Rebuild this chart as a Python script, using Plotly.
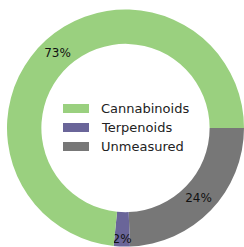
import plotly.graph_objects as go

labels = ["Cannabinoids", "Terpenoids", "Unmeasured"]
values = [73.4, 2.2, 24.4]
colors = ["#9ad07f", "#6a6599", "#777777"]

fig = go.Figure()
# slices drawn clockwise from 3 o'clock in reverse order (same layout as
# counter-clockwise from 3 o'clock in the given order)
fig.add_trace(go.Pie(
    labels=labels[::-1],
    values=values[::-1],
    hole=0.71,
    sort=False,
    direction="clockwise",
    rotation=90,
    marker=dict(colors=colors[::-1], line=dict(width=0)),
    texttemplate="%{percent:.0%}",
    textposition="inside",
    insidetextorientation="horizontal",
    textfont=dict(family="DejaVu Sans", size=12, color="#111111"),
    domain=dict(x=[7 / 244, 1.0], y=[0.0, 238 / 247]),
    showlegend=False,
    hoverinfo="label+percent",
))

# legend drawn in the centre
row_y = [108.5, 127.5, 146.5]
for lab, col, yy in zip(labels, colors, row_y):
    fig.add_shape(type="rect", xref="paper", yref="paper",
                  x0=63 / 244, x1=89 / 244,
                  y0=1 - (yy + 4.5) / 247, y1=1 - (yy - 4.5) / 247,
                  fillcolor=col, line=dict(width=0))
    fig.add_annotation(text=lab, xref="paper", yref="paper",
                       x=99 / 244, y=1 - yy / 247, xanchor="left", yanchor="middle",
                       showarrow=False,
                       font=dict(family="DejaVu Sans", size=13, color="#222222"))

fig.update_layout(
    width=244, height=247,
    margin=dict(l=0, r=0, t=0, b=0),
    paper_bgcolor="white",
    plot_bgcolor="white",
    uniformtext=dict(minsize=12, mode="show"),
)

fig.write_html("out.html",
               config={"displayModeBar": False},
               post_script="document.body.style.margin='0';document.body.style.overflow='hidden';")
